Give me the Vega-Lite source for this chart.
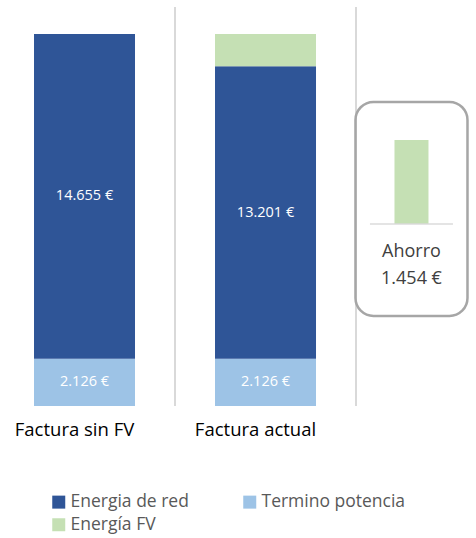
{
  "$schema": "https://vega.github.io/schema/vega-lite/v6.json",
  "width": 476,
  "height": 399,
  "autosize": {"type": "none"},
  "padding": {"left": 0, "top": 7, "right": 0, "bottom": 132},
  "config": {
    "view": {"stroke": null},
    "font": "Open Sans",
    "locale": {"number": {"decimal": ",", "thousands": ".", "grouping": [3], "currency": ["", " €"]}}
  },
  "layer": [
    {
      "data": {"values": [
        {"factura": "Factura sin FV", "serie": "Termino potencia", "valor": 2126, "orden": 1},
        {"factura": "Factura sin FV", "serie": "Energia de red", "valor": 14655, "orden": 2},
        {"factura": "Factura actual", "serie": "Termino potencia", "valor": 2126, "orden": 1},
        {"factura": "Factura actual", "serie": "Energia de red", "valor": 13201, "orden": 2},
        {"factura": "Factura actual", "serie": "Energía FV", "valor": 1454, "orden": 3}
      ]},
      "encoding": {
        "x": {
          "field": "factura", "type": "nominal", "sort": ["Factura sin FV", "Factura actual"],
          "scale": {"paddingInner": 0.442, "paddingOuter": 0.5359, "align": 0.1753},
          "axis": {"title": null, "domain": false, "ticks": false, "labelAngle": 0, "labelFontSize": 18.5, "labelColor": "#000000", "labelPadding": 14, "labelOffset": -10, "grid": false}
        }
      },
      "layer": [
        {
          "mark": {"type": "bar"},
          "encoding": {
            "y": {"field": "valor", "type": "quantitative", "stack": "zero", "scale": {"domain": [0, 18000], "nice": false}, "axis": null},
            "color": {
              "field": "serie", "type": "nominal",
              "scale": {"domain": ["Energia de red", "Energía FV", "Termino potencia"], "range": ["#2F5597", "#C5E0B4", "#9DC3E6"]},
              "legend": {"title": null, "orient": "none", "legendX": 50, "legendY": 486, "columns": 2, "columnPadding": 52, "rowPadding": 4, "symbolType": "square", "symbolSize": 169, "symbolStrokeWidth": 0, "labelFontSize": 17.5, "labelColor": "#595959", "labelOffset": 3}
            },
            "order": {"field": "orden", "type": "quantitative"}
          }
        },
        {
          "transform": [{"filter": "datum.serie !== 'Energía FV'"}],
          "mark": {"type": "text", "color": "white", "fontSize": 14.5, "baseline": "middle"},
          "encoding": {
            "y": {"field": "valor", "type": "quantitative", "stack": "zero", "bandPosition": 0.5},
            "text": {"field": "valor", "type": "quantitative", "format": "$,.0f"},
            "order": {"field": "orden", "type": "quantitative"}
          }
        },
        {
          "transform": [{"filter": "datum.orden === 1"}],
          "mark": {"type": "rule", "color": "#d9d9d9", "strokeWidth": 2},
          "encoding": {
            "x": {"field": "factura", "type": "nominal", "sort": ["Factura sin FV", "Factura actual"], "bandPosition": 1.396}
          }
        }
      ]
    },
    {
      "data": {"values": [{"concepto": "Ahorro", "valor": 1454}]},
      "encoding": {
        "x": {"field": "concepto", "type": "nominal", "scale": {"paddingInner": 0.3846, "paddingOuter": 1, "align": 0.9766}, "axis": null}
      },
      "layer": [
        {
          "mark": {"type": "bar", "fill": "transparent", "stroke": "#a6a6a6", "strokeWidth": 2.5, "cornerRadius": 18},
          "encoding": {
            "y": {"datum": 2112, "type": "quantitative", "scale": {"domain": [-3150, 3756], "nice": false, "zero": false}, "axis": null},
            "y2": {"datum": -1592}
          }
        },
        {
          "mark": {"type": "bar", "color": "#C5E0B4", "width": {"band": 0.3036}},
          "encoding": {"y": {"field": "valor", "type": "quantitative"}}
        },
        {
          "mark": {"type": "tick", "orient": "horizontal", "size": 83, "thickness": 2, "color": "#d9d9d9"},
          "encoding": {"y": {"datum": 0, "type": "quantitative"}}
        },
        {
          "mark": {"type": "text", "fontSize": 18, "color": "#404040", "baseline": "middle"},
          "encoding": {"y": {"datum": -485, "type": "quantitative"}, "text": {"field": "concepto"}}
        },
        {
          "mark": {"type": "text", "fontSize": 18, "color": "#404040", "baseline": "middle"},
          "encoding": {"y": {"datum": -952, "type": "quantitative"}, "text": {"field": "valor", "type": "quantitative", "format": "$,.0f"}}
        }
      ]
    }
  ],
  "resolve": {"scale": {"x": "independent", "y": "independent"}, "axis": {"x": "independent", "y": "independent"}}
}
